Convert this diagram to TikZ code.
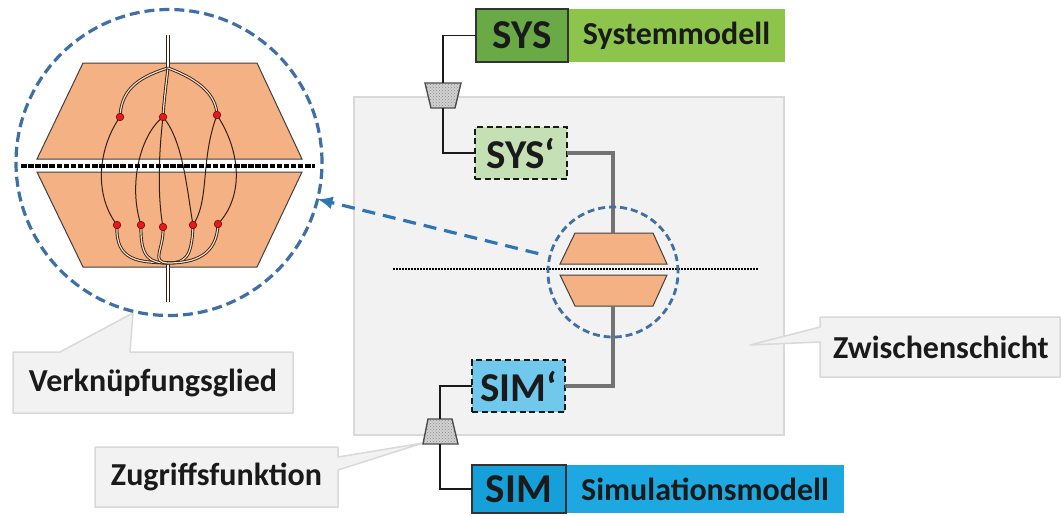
\documentclass[tikz,border=0pt]{standalone}
\usepackage{fontspec}
\setmainfont{Carlito}
\usetikzlibrary{arrows.meta,patterns}

\definecolor{ink}{RGB}{26,26,26}
\definecolor{panefill}{RGB}{242,242,242}
\definecolor{paneline}{RGB}{217,217,217}
\definecolor{sysdark}{RGB}{106,170,70}
\definecolor{syslight}{RGB}{140,196,76}
\definecolor{sysproxy}{RGB}{197,224,180}
\definecolor{simdark}{RGB}{22,160,218}
\definecolor{simlight}{RGB}{30,168,225}
\definecolor{simproxy}{RGB}{112,200,236}
\definecolor{coupler}{RGB}{244,177,131}
\definecolor{lensblue}{RGB}{62,112,165}
\definecolor{arrowblue}{RGB}{46,117,182}
\definecolor{wirecol}{RGB}{50,34,22}
\definecolor{dotred}{RGB}{222,30,30}

\begin{document}
\begin{tikzpicture}[x=1pt,y=-1pt,
  every node/.style={inner sep=0pt, outer sep=0pt},
  layer/.style={draw=paneline, line width=1.5pt, fill=panefill},
  model/.style={draw=black!80, line width=1.2pt, font=\fontsize{41}{48}\selectfont\bfseries, text=ink},
  modelname/.style={font=\fontsize{32}{38}\selectfont\bfseries, text=ink},
  proxy/.style={draw=black!90, line width=2pt, dash pattern=on 6pt off 3.5pt, font=\fontsize{41}{48}\selectfont\bfseries, text=ink},
  callout/.style={draw=paneline, line width=1.5pt, fill=panefill, line join=round},
  calltext/.style={font=\fontsize{32}{38}\selectfont\bfseries, text=ink},
  link/.style={draw=ink, line width=1.2pt},
  trunk/.style={draw=black!55, line width=3.4pt},
  access/.style={draw=black!70, line width=1.4pt, fill=black!18},
  half/.style={draw=black!75, line width=1pt, fill=coupler},
  lens/.style={circle, draw=lensblue, line width=2.8pt, dash pattern=on 7pt off 4pt},
  zoomarrow/.style={draw=arrowblue, line width=3.2pt, dash pattern=on 13pt off 8pt, -{Latex[length=15pt,width=13pt]}},
  wire/.style={draw=wirecol, line width=1pt},
  bus/.style={draw=wirecol, line width=0.9pt, double=white!55!coupler, double distance=1.2pt},
  stem/.style={draw=wirecol, line width=1pt, double=white, double distance=1.4pt},
  dot/.style={fill=dotred, draw=red!50!black, line width=0.6pt},
]

\useasboundingbox (0,0) rectangle (1062,515);
\fill[white] (0,0) rectangle (1062,515);

% intermediate layer
\node[layer, minimum width=430pt, minimum height=338pt] (layer) at (569,266) {};

% callouts
\draw[callout] (13,352) -- (60,352) -- (133,313) -- (130,352) -- (293,352)
  -- (293,413) -- (13,413) -- cycle;
\node[calltext] (vklabel) at (153,382.5) {Verknüpfungsglied};
\draw[callout] (95,447) -- (338,447) -- (338,457) -- (423,443) -- (338,470)
  -- (338,507) -- (95,507) -- cycle;
\node[calltext] (zglabel) at (216.5,477) {Zugriffsfunktion};
\draw[callout] (820,317) -- (1060,317) -- (1060,377) -- (820,377) -- (820,342)
  -- (750,345) -- (820,327) -- cycle;
\node[calltext] (zwlabel) at (941,347) {Zwischenschicht};

% models and their proxies
\node[modelname, fill=syslight, minimum width=217pt, minimum height=53pt] (sysname) at (676.5,35.5) {Systemmodell};
\node[model, fill=sysdark, minimum width=92pt, minimum height=53pt] (sys) at (522,35.5) {SYS};
\node[proxy, fill=sysproxy, minimum width=92pt, minimum height=52pt] (sysp) at (521,153) {SYS‘};
\node[proxy, fill=simproxy, minimum width=93pt, minimum height=52pt] (simp) at (518.5,386) {SIM‘};
\node[modelname, fill=simlight, minimum width=278pt, minimum height=48pt] (simname) at (705,489) {Simulationsmodell};
\node[model, fill=simdark, minimum width=94pt, minimum height=48pt] (sim) at (519,489) {SIM};

% access functions
\draw[access] (425,83) -- (461,83) -- (455,108) -- (431,108) -- cycle;
\fill[pattern=crosshatch dots, pattern color=black!45] (426,84) -- (460,84) -- (454.5,107) -- (431.5,107) -- cycle;
\coordinate (acc1n) at (443,83);
\coordinate (acc1s) at (443,108);
\draw[access] (428,419) -- (452,419) -- (458,444) -- (423,444) -- cycle;
\fill[pattern=crosshatch dots, pattern color=black!45] (428.5,420) -- (451.5,420) -- (457,443) -- (424,443) -- cycle;
\coordinate (acc2n) at (440,419);
\coordinate (acc2s) at (440,444);

% coupling element
\draw[half] (575,233) -- (653,233) -- (667,264) -- (560,264) -- cycle;
\draw[half] (560,275) -- (667,275) -- (653,306) -- (575,306) -- cycle;
\coordinate (cplN) at (613,233);
\coordinate (cplS) at (613,306);
\draw[black, line width=1.6pt, dash pattern=on 2pt off 1pt] (393,269) -- (758,269);

% connections
\draw[link] (sys.west) -| (acc1n);
\draw[link] (acc1s) |- (sysp.west);
\draw[trunk] (sysp.east) -| (cplN);
\draw[trunk] (cplS) |- (simp.east);
\draw[link] (simp.west) -| (acc2n);
\draw[link] (acc2s) |- (sim.west);

% lenses
\node[lens, minimum size=130pt] (lensS) at (613,272) {};
\node[lens, line width=3.2pt, dash pattern=on 10pt off 5pt, minimum size=306pt] (lensL) at (169,162.5) {};
\draw[zoomarrow, shorten <=12pt] (lensS) -- (lensL);

% magnified coupling element
\draw[half] (83,63) -- (257,63) -- (302,159) -- (37,159) -- cycle;
\draw[half] (37,172) -- (302,172) -- (257,267) -- (83,267) -- cycle;

\coordinate (J1) at (168,68);
\coordinate (J2) at (168,263);
\coordinate (U1) at (120,117);
\coordinate (U2) at (163,117);
\coordinate (U3) at (217,115);
\coordinate (L1) at (117,225);
\coordinate (L2) at (141,225);
\coordinate (L3) at (163,227);
\coordinate (L4) at (193,225);
\coordinate (L5) at (218,224);

% single wires between the connection points
\draw[wire] (U1) .. controls (100,145) and (92,192) .. (L1);
\draw[wire] (U2) .. controls (140,135) and (128,185) .. (L2);
\draw[wire] (U2) .. controls (158,160) and (158,200) .. (L3);
\draw[wire] (U2) .. controls (183,140) and (187,190) .. (L4);
\draw[wire] (U3) .. controls (200,160) and (210,200) .. (L4);
\draw[wire] (U3) .. controls (240,150) and (245,195) .. (L5);

% bundled wires
\draw[stem] (168,35) -- (J1);
\draw[stem] (J2) -- (168,302);
\draw[bus] (J1) .. controls (135,78) and (121,92) .. (U1);
\draw[bus] (J1) .. controls (166,85) and (164,100) .. (U2);
\draw[bus] (J1) .. controls (200,80) and (216,95) .. (U3);
\draw[bus] (L1) .. controls (115,262) and (140,262) .. (J2);
\draw[bus] (L2) .. controls (140,258) and (150,263) .. (J2);
\draw[bus] (L3) .. controls (164,250) and (150,262) .. (J2);
\draw[bus] (L4) .. controls (192,258) and (185,263) .. (J2);
\draw[bus] (L5) .. controls (217,255) and (195,263) .. (J2);

\foreach \p in {U1,U2,U3,L1,L2,L3,L4,L5}
  \draw[dot] (\p) circle (3.8pt);

% separating plane
\draw[black, line width=4pt, dash pattern=on 5.5pt off 1.6pt] (21,166) -- (315,166);

\end{tikzpicture}
\end{document}
